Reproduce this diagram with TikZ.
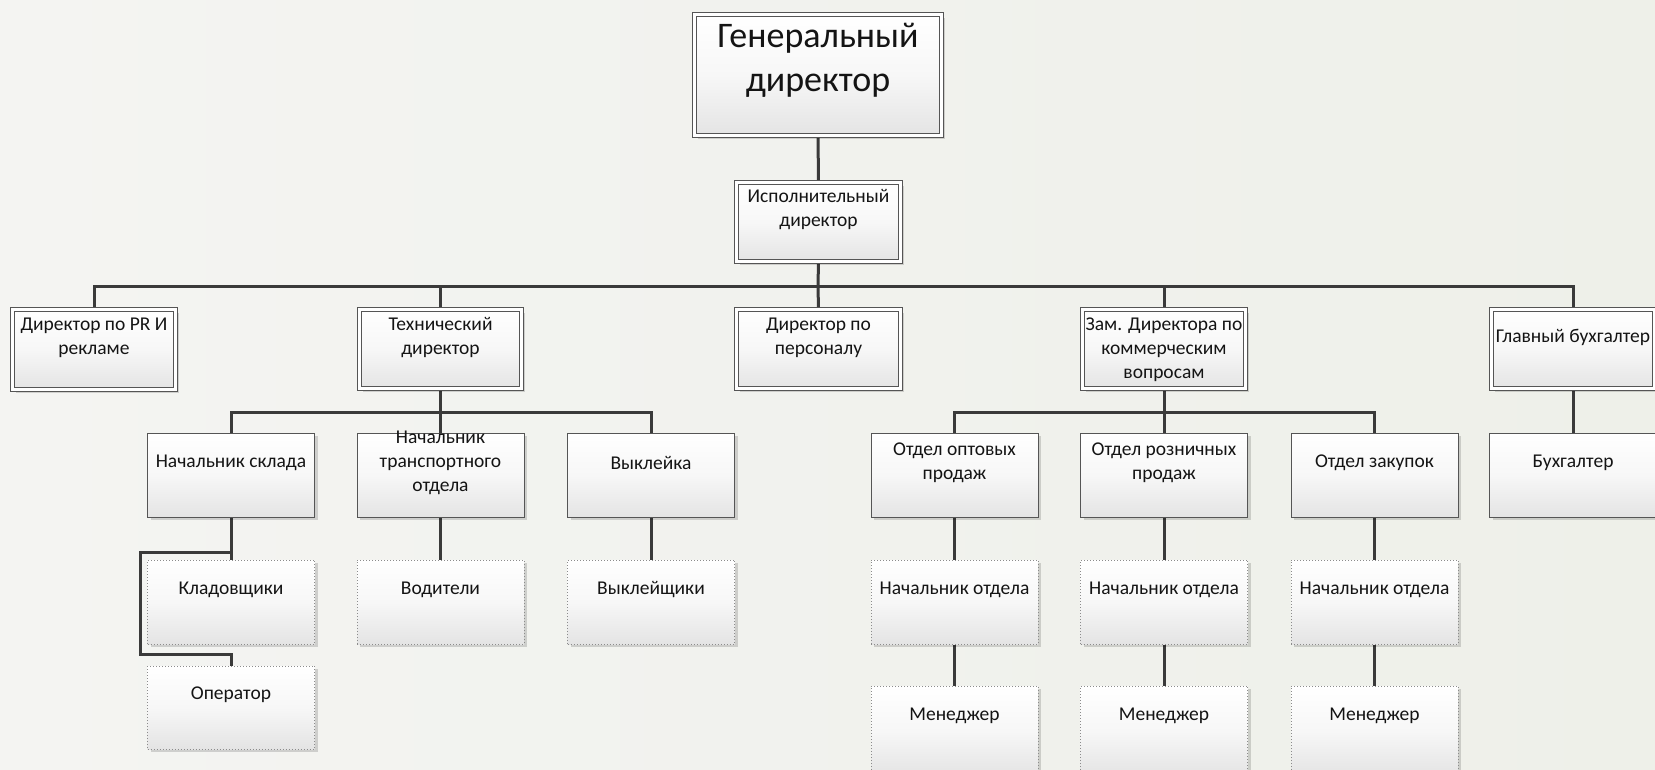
\documentclass[tikz,border=0pt]{standalone}
\usepackage{fontspec}
\setmainfont{Carlito}
\usetikzlibrary{shadows,calc,fadings}
\tikzfading[name=hmidfade, left color=transparent!100, middle color=transparent!0, right color=transparent!100]
\tikzfading[name=vmidfade, top color=transparent!100, middle color=transparent!0, bottom color=transparent!100]
\definecolor{linec}{HTML}{3A3A3A}
\definecolor{bordc}{HTML}{555555}
\definecolor{dotc}{HTML}{8C8C8C}
\definecolor{boxbot}{HTML}{E4E4E4}
\definecolor{boxmid}{HTML}{F7F7F7}
\definecolor{txtc}{HTML}{141414}
\definecolor{bgc}{HTML}{F4F4F2}
\definecolor{bgr}{HTML}{EEF0E9}
\definecolor{paper}{HTML}{DDE5C6}
\pgfdeclarelayer{back}
\pgfdeclarelayer{wires}
\pgfsetlayers{back,wires,main}
\tikzset{
  conn/.style={line width=3pt, draw=linec, line join=miter},
  boxbase/.style={rectangle, inner sep=0pt, outer sep=0pt,
    top color=white, bottom color=boxbot, middle color=boxmid,
    drop shadow={shadow xshift=3pt, shadow yshift=-3pt, fill=black, opacity=0.15}},
  dbox/.style={boxbase, draw=bordc, line width=1pt, double=white, double distance=3pt},
  sbox/.style={boxbase, draw=bordc, line width=1pt, minimum width=167pt},
  obox/.style={boxbase, draw=dotc, line width=1pt, dotted, minimum width=167pt},
  lbl/.style={font=\fontsize{19.5}{24}\selectfont, align=center, text=txtc, inner sep=0pt},
  biglbl/.style={font=\fontsize{36}{44}\selectfont, align=center, text=txtc, inner sep=0pt},
  streak/.style={fill=white, opacity=0.5, path fading=vmidfade},
}
\begin{document}
\begin{tikzpicture}[x=1pt,y=-1pt]
\useasboundingbox (0,0) rectangle (1655,769);
\begin{pgfonlayer}{back}
  \shade[left color=bgc, right color=bgr] (0,0) rectangle (1655,769);
  % faint paper stack in the lower middle
  \fill[paper, opacity=0.45, path fading=hmidfade] (340,630) rectangle (560,769);
  \fill[paper, opacity=0.35, path fading=hmidfade] (600,540) rectangle (800,630);
  \fill[paper, opacity=0.25, path fading=hmidfade] (440,610) rectangle (1340,769);
  \fill[streak] (420,636) rectangle (1290,666);
  \fill[streak] (400,668) rectangle (1300,698);
  \fill[streak] (410,700) rectangle (1300,728);
  \fill[streak] (400,730) rectangle (1300,760);
  \fill[white, opacity=0.5, path fading=vmidfade] (0,550) rectangle (150,610);
  \fill[white, opacity=0.5, path fading=vmidfade] (0,630) rectangle (150,700);
\end{pgfonlayer}

% top levels (double frame)
\node[dbox, minimum width=247pt, minimum height=121pt] (gen) at (818,75) {};
\node[biglbl] (gen-t) at (818,60) {Генеральный\\директор};
\node[dbox, minimum width=164pt, minimum height=79pt] (isp) at (818.5,222) {};
\node[lbl] (isp-t) at (818.5,210) {Исполнительный\\директор};

\node[dbox, minimum width=163pt, minimum height=80pt] (pr) at (94,349.5) {};
\node[lbl] (pr-t) at (94,338) {Директор по PR И\\рекламе};
\node[dbox, minimum width=162pt, minimum height=79pt] (tech) at (440.5,349) {};
\node[lbl] (tech-t) at (440.5,338) {Технический\\директор};
\node[dbox, minimum width=164pt, minimum height=79pt] (pers) at (818.5,349) {};
\node[lbl] (pers-t) at (818.5,338) {Директор по\\персоналу};
\node[dbox, minimum width=163pt, minimum height=79pt] (zam) at (1164,349) {};
\node[lbl] (zam-t) at (1164,350) {Зам. Директора по\\коммерческим\\вопросам};
\node[dbox, minimum width=163pt, minimum height=79pt] (glav) at (1573,349) {};
\node[lbl] (glav-t) at (1573,337) {Главный бухгалтер};

% second level
\node[sbox, minimum height=84pt] (sklad) at (231,475) {};
\node[lbl] (sklad-t) at (231,463) {Начальник склада};
\node[sbox, minimum height=84pt] (trans) at (440.5,475) {};
\node[lbl] (trans-t) at (440.5,463) {Начальник\\транспортного\\отдела};
\node[sbox, minimum height=84pt] (vykl) at (651,475) {};
\node[lbl] (vykl-t) at (651,463) {Выклейка};
\node[sbox, minimum height=84pt] (opt) at (954.5,475) {};
\node[lbl] (opt-t) at (954.5,463) {Отдел оптовых\\продаж};
\node[sbox, minimum height=84pt] (rozn) at (1164,475) {};
\node[lbl] (rozn-t) at (1164,463) {Отдел розничных\\продаж};
\node[sbox, minimum height=84pt] (zak) at (1374.5,475) {};
\node[lbl] (zak-t) at (1374.5,463) {Отдел закупок};
\node[sbox, minimum height=84pt] (bukh) at (1573,475) {};
\node[lbl] (bukh-t) at (1573,463) {Бухгалтер};

% third level (dotted)
\node[obox, minimum height=84pt] (klad) at (231,602) {};
\node[lbl] (klad-t) at (231,590) {Кладовщики};
\node[obox, minimum height=84pt] (vod) at (440.5,602) {};
\node[lbl] (vod-t) at (440.5,590) {Водители};
\node[obox, minimum height=84pt] (vyklsh) at (651,602) {};
\node[lbl] (vyklsh-t) at (651,590) {Выклейщики};
\node[obox, minimum height=84pt] (no1) at (954.5,602) {};
\node[lbl] (no1-t) at (954.5,590) {Начальник отдела};
\node[obox, minimum height=84pt] (no2) at (1164,602) {};
\node[lbl] (no2-t) at (1164,590) {Начальник отдела};
\node[obox, minimum height=84pt] (no3) at (1374.5,602) {};
\node[lbl] (no3-t) at (1374.5,590) {Начальник отдела};

\node[obox, minimum height=83pt] (oper) at (231,707.5) {};
\node[lbl] (oper-t) at (231,695) {Оператор};
\node[obox, minimum height=90pt] (men1) at (954.5,731) {};
\node[lbl] (men1-t) at (954.5,716) {Менеджер};
\node[obox, minimum height=90pt] (men2) at (1164,731) {};
\node[lbl] (men2-t) at (1164,716) {Менеджер};
\node[obox, minimum height=90pt] (men3) at (1374.5,731) {};
\node[lbl] (men3-t) at (1374.5,716) {Менеджер};

\begin{pgfonlayer}{wires}
  \coordinate (busA) at (818,286);
  \coordinate (busB) at (440.5,412);
  \coordinate (busC) at (1164,412);
  \coordinate (skA) at (140,552);
  \coordinate (skB) at (140,654);
  \draw[conn] (gen.south) -- (isp.north);
  \draw[conn] (isp.south) -- (busA);
  \draw[conn] (pr.north) |- (busA) -| (glav.north);
  \draw[conn] (tech.north) -- (tech.north |- busA);
  \draw[conn] (pers.north) -- (busA);
  \draw[conn] (zam.north) -- (zam.north |- busA);

  \draw[conn] (tech.south) -- (busB);
  \draw[conn] (sklad.north) |- (busB) -| (vykl.north);
  \draw[conn] (trans.north) -- (busB);

  \draw[conn] (zam.south) -- (busC);
  \draw[conn] (opt.north) |- (busC) -| (zak.north);
  \draw[conn] (rozn.north) -- (busC);

  \draw[conn] (glav.south) -- (bukh.north);

  \draw[conn] (sklad.south) -- (klad.north);
  \draw[conn] (sklad.south |- skA) -- (skA) -- (skB) -- (skB -| oper.north) -- (oper.north);
  \draw[conn] (trans.south) -- (vod.north);
  \draw[conn] (vykl.south) -- (vyklsh.north);
  \draw[conn] (opt.south) -- (no1.north);
  \draw[conn] (no1.south) -- (men1.north);
  \draw[conn] (rozn.south) -- (no2.north);
  \draw[conn] (no2.south) -- (men2.north);
  \draw[conn] (zak.south) -- (no3.north);
  \draw[conn] (no3.south) -- (men3.north);
\end{pgfonlayer}
\end{tikzpicture}
\end{document}
